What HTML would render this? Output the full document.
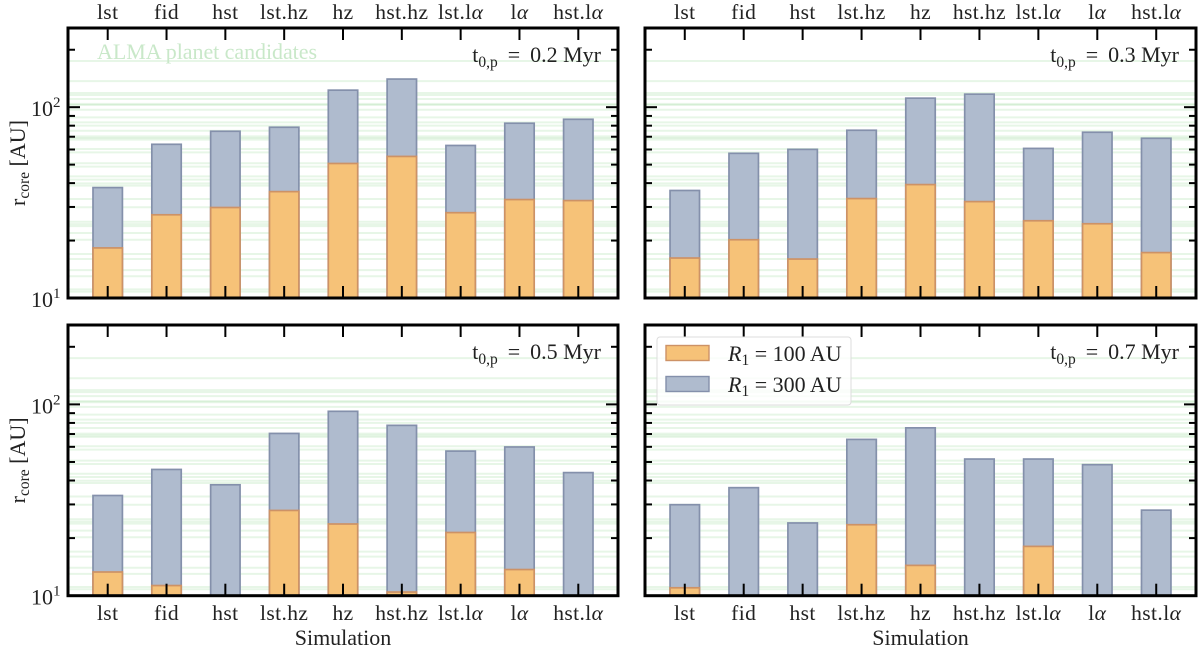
<!DOCTYPE html>
<html>
<head>
<meta charset="utf-8">
<title>Core radius per simulation</title>
<style>
html,body{margin:0;padding:0;background:#fff;}
svg{display:block;}
text{font-family:"Liberation Serif",serif;fill:#222;}
</style>
</head>
<body>
<svg id="chart" width="1200" height="650" viewBox="0 0 1200 650" xmlns="http://www.w3.org/2000/svg"></svg>
<script>
const categories = ['lst','fid','hst','lst.hz','hz','hst.hz','lst.lα','lα','hst.lα'];
const panelTimes = ['0.2','0.3','0.5','0.7'];
const r300Panel1 = [37.9,63.9,74.8,78.5,122.8,140.4,63,82.4,86.4];
const r100Panel1 = [18.3,27.3,29.8,36.1,50.7,55.2,28,32.8,32.4];
const r300Panel2 = [36.6,57.3,60.1,75.7,111.5,117,60.8,73.9,68.7];
const r100Panel2 = [16.2,20.2,16,33.2,39.3,32,25.4,24.5,17.3];
const r300Panel3 = [33.4,45.7,38,70.5,92,77.7,57,59.9,44];
const r100Panel3 = [13.3,11.3,null,27.9,23.7,10.45,21.4,13.7,null];
const r300Panel4 = [29.9,36.7,24,65.6,75.4,51.8,51.8,48.4,28];
const r100Panel4 = [11,null,null,23.5,14.4,null,18.1,null,null];
const planetRadii = [174.6,137,118.7,115.9,110.4,104,102.6,97,88.4,83.2,80,75.3,70.3,68.9,67.6,60.4,58,50.8,48.8,43.4,41.7,39.9,38.8,33,29.9,25.1,24.4,23.8,21.9,20.2,17,16,14,13,11.1,10.8];
const majorTicks = [10,100];
const minorTicks = [20,30,40,50,60,70,80,90,200];
const yMin = 10;
const yMax = 260;
const xMin = -0.675;
const xMax = 8.675;
const barWidth = 0.5;

const NS = 'http://www.w3.org/2000/svg';
const svg = document.getElementById('chart');

function make(tag, attrs, parent) {
  const el = document.createElementNS(NS, tag);
  for (const k in attrs) el.setAttribute(k, attrs[k]);
  (parent || svg).appendChild(el);
  return el;
}

function addSpan(textEl, str, attrs) {
  const s = make('tspan', attrs || {}, textEl);
  s.textContent = str;
  return s;
}

function categoryLabel(group, str, x, y) {
  const t = make('text', {x: x, y: y, 'text-anchor': 'middle', 'font-size': 21.5, 'letter-spacing': 0.4}, group);
  
  
  const i = str.indexOf('α');
  if (i >= 0) {
    addSpan(t, str.slice(0, i));
    addSpan(t, 'α', {'font-style': 'italic'});
  } else {
    t.textContent = str;
  }
  return t;
}

const panels = [
  {left: 68, right: 618, top: 28, bottom: 298, r300: r300Panel1, r100: r100Panel1, time: panelTimes[0], xTop: true, yLabels: true, alma: true},
  {left: 645, right: 1196, top: 28, bottom: 298, r300: r300Panel2, r100: r100Panel2, time: panelTimes[1], xTop: true, yLabels: false},
  {left: 68, right: 618, top: 325, bottom: 595.7, r300: r300Panel3, r100: r100Panel3, time: panelTimes[2], xTop: false, yLabels: true},
  {left: 645, right: 1196, top: 325, bottom: 595.7, r300: r300Panel4, r100: r100Panel4, time: panelTimes[3], xTop: false, yLabels: false, legend: true}
];

panels.forEach(function (p, idx) {
  const xScale = function (v) { return p.left + (v - xMin) / (xMax - xMin) * (p.right - p.left); };
  const yScale = function (v) { return p.bottom - Math.log10(v / yMin) / Math.log10(yMax / yMin) * (p.bottom - p.top); };

  const g = make('g', {});
  
  

  // planet candidate lines
  planetRadii.forEach(function (r) {
    const l = make('line', {x1: p.left, x2: p.right, y1: yScale(r), y2: yScale(r), stroke: '#3cb83c', 'stroke-opacity': 0.12, 'stroke-width': 2}, g);
    
    
  });

  if (p.alma) {
    const a = make('text', {x: 97, y: 59, 'font-size': 22, textLength: 220, lengthAdjust: 'spacing', style: 'fill:#c9e8c9'}, g);
    
    
    a.textContent = 'ALMA planet candidates';
  }

  // bars
  categories.forEach(function (c, i) {
    const bx = xScale(i - barWidth / 2);
    const bw = xScale(i + barWidth / 2) - bx;
    const v300 = p.r300[i];
    const v100 = p.r100[i];
    if (v300 !== null) {
      const b = make('rect', {x: bx, y: yScale(v300), width: bw, height: p.bottom - yScale(v300), fill: '#afbbce', stroke: '#8490ab', 'stroke-width': 1.7}, g);
      
      
    }
    if (v100 !== null) {
      const b2 = make('rect', {x: bx, y: yScale(v100), width: bw, height: p.bottom - yScale(v100), fill: '#f6c278', stroke: '#cd9266', 'stroke-width': 1.7}, g);
      
      
    }
  });

  // x ticks
  categories.forEach(function (c, i) {
    const tx = xScale(i);
    const t1 = make('line', {x1: tx, x2: tx, y1: p.top, y2: p.top + 12, stroke: '#000', 'stroke-width': 2}, g);
    
    
    const t2 = make('line', {x1: tx, x2: tx, y1: p.bottom, y2: p.bottom - 12, stroke: '#000', 'stroke-width': 2}, g);
    
    
    categoryLabel(g, c, tx, p.xTop ? 19 : 620);
  });

  // y ticks
  majorTicks.forEach(function (m) {
    const ty = yScale(m);
    const t1 = make('line', {x1: p.left, x2: p.left + 12, y1: ty, y2: ty, stroke: '#000', 'stroke-width': 2}, g);
    
    
    const t2 = make('line', {x1: p.right, x2: p.right - 12, y1: ty, y2: ty, stroke: '#000', 'stroke-width': 2}, g);
    
    
    if (p.yLabels) {
      const lab = make('text', {x: 31, y: ty + 9, 'font-size': 22}, g);
      
      
      addSpan(lab, '10');
      addSpan(lab, String(Math.round(Math.log10(m))), {dy: -9, 'font-size': 15});
    }
  });
  minorTicks.forEach(function (m) {
    const ty = yScale(m);
    const t1 = make('line', {x1: p.left, x2: p.left + 7, y1: ty, y2: ty, stroke: '#000', 'stroke-width': 2}, g);
    
    
    const t2 = make('line', {x1: p.right, x2: p.right - 7, y1: ty, y2: ty, stroke: '#000', 'stroke-width': 2}, g);
    
    
  });

  // frame
  const frame = make('rect', {x: p.left, y: p.top, width: p.right - p.left, height: p.bottom - p.top, fill: 'none', stroke: '#000', 'stroke-width': 3}, g);
  
  

  // time annotation
  const ann = make('text', {x: p.right - 17, y: p.top + 34, 'text-anchor': 'end', 'font-size': 22}, g);
  
  
  addSpan(ann, 't');
  addSpan(ann, '0,p', {dy: 5, 'font-size': 15.5});
  addSpan(ann, ' = ', {dy: -5, 'word-spacing': 4.5});
  addSpan(ann, p.time + ' Myr');

  // y axis title
  if (p.yLabels) {
    const cy = (p.top + p.bottom) / 2;
    const yt = make('text', {x: 0, y: 0, 'text-anchor': 'middle', 'font-size': 22, transform: 'translate(25 ' + cy + ') rotate(-90)'}, g);
    
    
    addSpan(yt, 'r');
    addSpan(yt, 'core', {dy: 4, 'font-size': 15.5});
    addSpan(yt, ' [AU]', {dy: -4});
  }

  // x axis title
  if (!p.xTop) {
    const xt = make('text', {x: (p.left + p.right) / 2, y: 645, 'text-anchor': 'middle', 'font-size': 22}, g);
    
    
    xt.textContent = 'Simulation';
  }

  // legend
  if (p.legend) {
    const lg = make('g', {}, g);
    
    
    const box = make('rect', {x: 657, y: 337, width: 194, height: 68, rx: 3, fill: '#fff', 'fill-opacity': 0.8, stroke: '#dcdcdc', 'stroke-width': 1}, lg);
    
    
    const s1 = make('rect', {x: 666, y: 345.5, width: 43, height: 15, fill: '#f6c278', stroke: '#cd9266', 'stroke-width': 1.4}, lg);
    
    
    const s2 = make('rect', {x: 666, y: 376.5, width: 43, height: 15, fill: '#afbbce', stroke: '#8490ab', 'stroke-width': 1.4}, lg);
    
    
    [['100 AU', 361], ['300 AU', 392]].forEach(function (e) {
      const t = make('text', {x: 728, y: e[1], 'font-size': 22}, lg);
      
      
      addSpan(t, 'R', {'font-style': 'italic'});
      addSpan(t, '1', {dy: 4, 'font-size': 15.5});
      addSpan(t, ' = ' + e[0], {dy: -4});
    });
  }
});
</script>
</body>
</html>
